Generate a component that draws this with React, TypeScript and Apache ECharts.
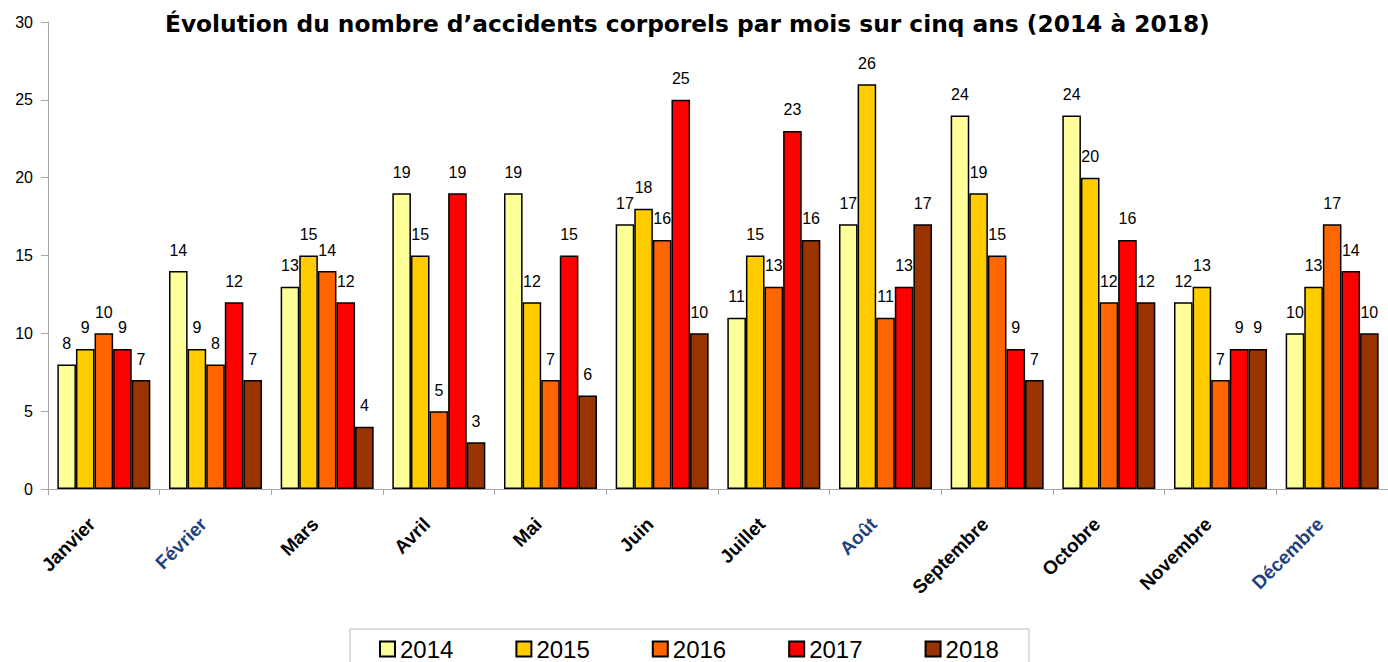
import React, { useEffect, useRef } from "react";
import * as echarts from "echarts";

const months = ["Janvier", "Février", "Mars", "Avril", "Mai", "Juin", "Juillet", "Août", "Septembre", "Octobre", "Novembre", "Décembre"];
const blueMonths = ["Février", "Août", "Décembre"];
const years = ["2014", "2015", "2016", "2017", "2018"];
const colors = ["#FFFF99", "#FFCC00", "#FF6600", "#FF0000", "#993300"];
const v2014 = [8, 14, 13, 19, 19, 17, 11, 17, 24, 24, 12, 10];
const v2015 = [9, 9, 15, 15, 12, 18, 15, 26, 19, 20, 13, 13];
const v2016 = [10, 8, 14, 5, 7, 16, 13, 11, 15, 12, 7, 17];
const v2017 = [9, 12, 12, 19, 15, 25, 23, 13, 9, 16, 9, 14];
const v2018 = [7, 7, 4, 3, 6, 10, 16, 17, 7, 12, 9, 10];
const seriesValues = [v2014, v2015, v2016, v2017, v2018];
const yTicks = { min: 0, max: 30, interval: 5 };
const titleText = "Évolution du nombre d’accidents corporels par mois sur cinq ans (2014 à 2018)";

const FONT = "'Liberation Sans', Arial, sans-serif";

export default function App() {
  const ref = useRef<HTMLDivElement>(null);
  useEffect(() => {
    if (!ref.current) return;
    const chart = echarts.init(ref.current, null, { renderer: "svg" });
    chart.setOption({
      animation: false,
      backgroundColor: "#ffffff",
      title: {
        text: titleText,
        left: 160,
        top: 7,
        textStyle: { fontFamily: "'DejaVu Sans', Verdana, sans-serif", fontWeight: "bold", fontSize: 23.3, color: "#000" },
      },
      grid: { left: 48, right: -10, top: 22, bottom: 173, containLabel: false },
      legend: {
        data: years,
        left: 350,
        top: 629,
        padding: [8, 30, 20, 29],
        borderColor: "#bbbbbb",
        borderWidth: 1,
        itemWidth: 15,
        itemHeight: 15,
        itemGap: 62,
        icon: "rect",
        textStyle: { fontFamily: FONT, fontSize: 24, color: "#000" },
      },
      xAxis: {
        type: "category",
        data: months,
        axisLine: { lineStyle: { color: "#a6a6a6", width: 1 } },
        axisTick: { show: true, length: 6, lineStyle: { color: "#a6a6a6" } },
        axisLabel: {
          interval: 0,
          rotate: 45,
          margin: 20,
          padding: [0, 17, 0, 0],
          fontFamily: FONT,
          fontWeight: "bold",
          fontSize: 19,
          color: (value: string) => (blueMonths.includes(value) ? "#1F3F7F" : "#000"),
        },
      },
      yAxis: {
        type: "value",
        min: yTicks.min,
        max: yTicks.max,
        interval: yTicks.interval,
        splitLine: { show: false },
        axisLine: { show: true, lineStyle: { color: "#a6a6a6", width: 1 } },
        axisTick: { show: true, length: 7, lineStyle: { color: "#a6a6a6" } },
        axisLabel: { margin: 15, fontFamily: FONT, fontSize: 16, color: "#000" },
      },
      series: years.map((y, i) => ({
        name: y,
        type: "bar",
        data: seriesValues[i],
        barWidth: 18.6,
        barGap: "0%",
        itemStyle: { color: colors[i], borderColor: "#000", borderWidth: 1.5 },
        label: { show: true, position: "top", distance: 13, fontFamily: FONT, fontSize: 16, color: "#000" },
      })),
    });
    return () => chart.dispose();
  }, []);
  return <div ref={ref} style={{ position: "absolute", left: 0, top: 0, width: 1388, height: 662 }} />;
}
